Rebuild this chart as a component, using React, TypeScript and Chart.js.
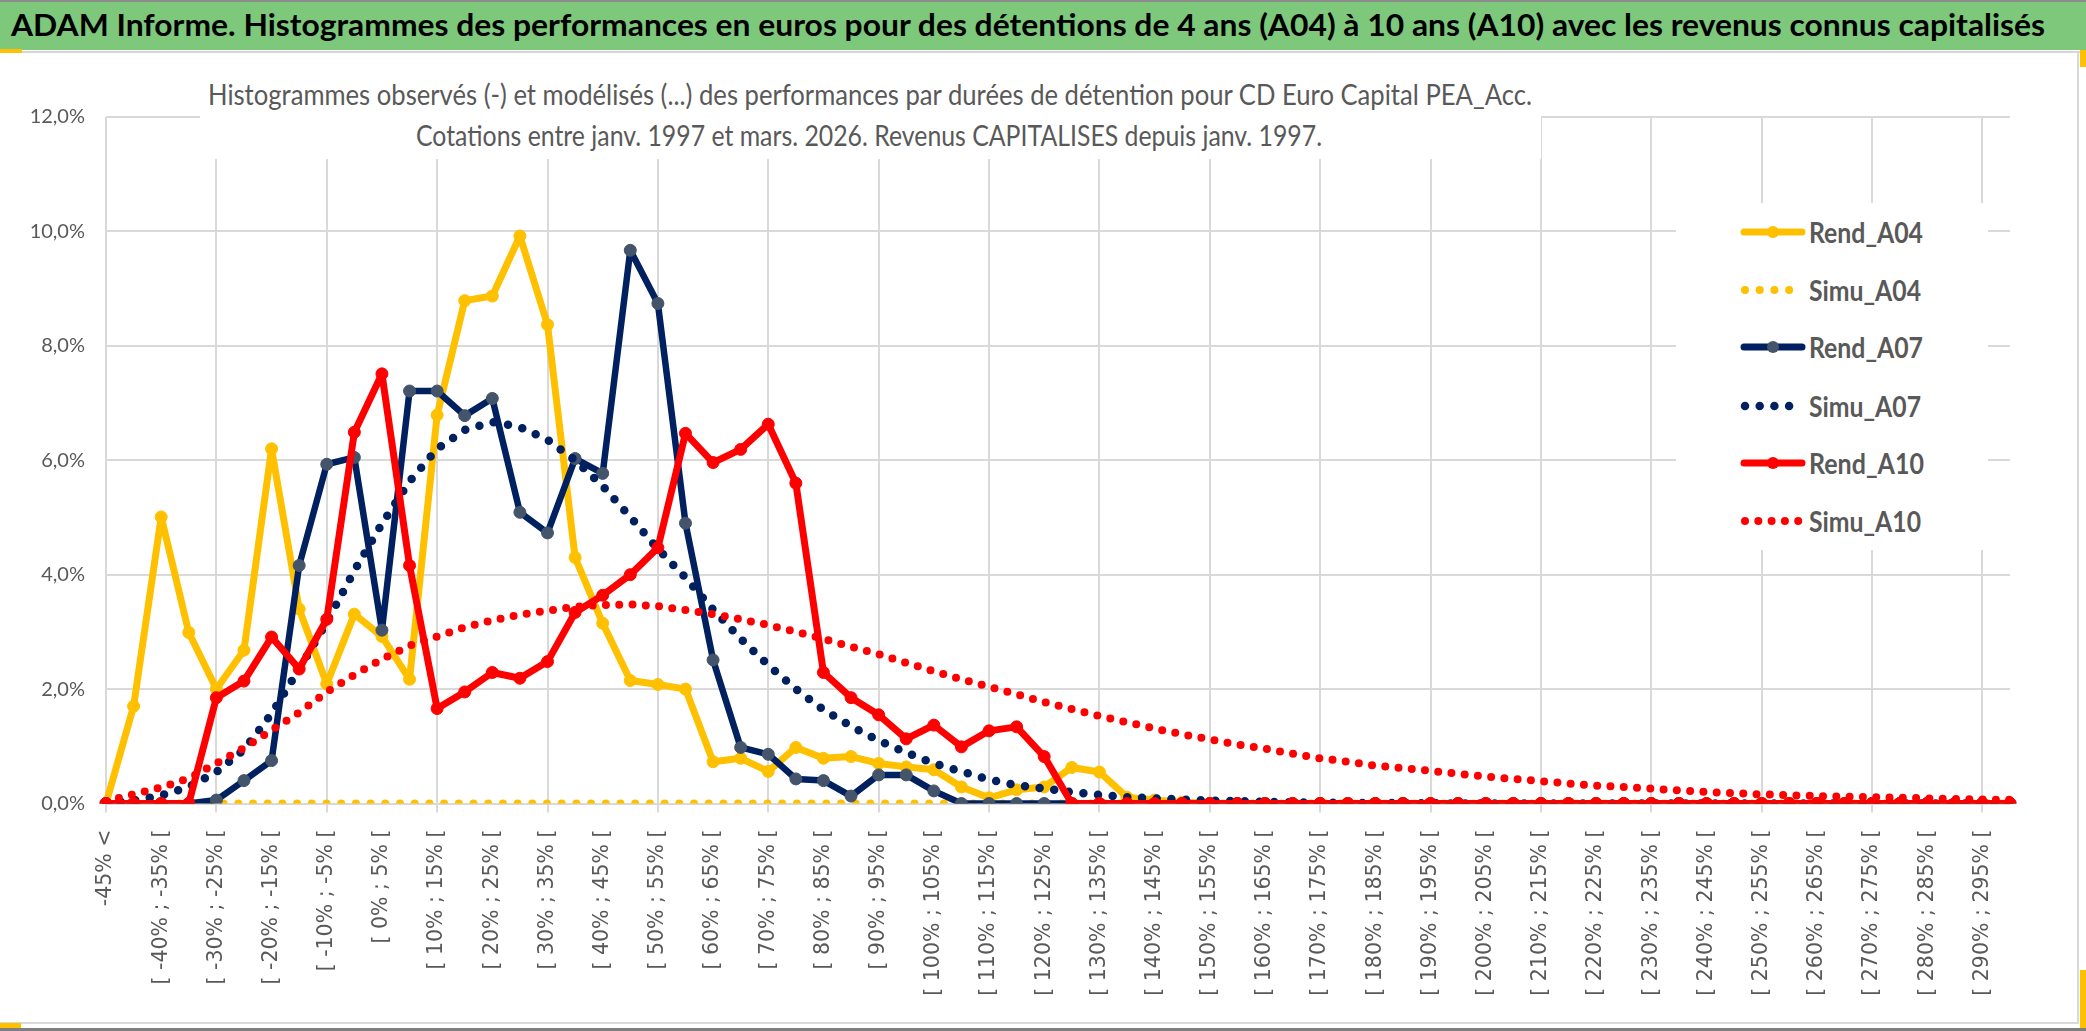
import React, { useEffect, useLayoutEffect, useRef } from "react";
import { Chart, registerables } from "chart.js";

Chart.register(...registerables);

// ---------------- DATA ----------------
const CATEGORIES: string[] = [
  "-45% <", "[ -45% ; -40% [", "[ -40% ; -35% [", "[ -35% ; -30% [", "[ -30% ; -25% [",
  "[ -25% ; -20% [", "[ -20% ; -15% [", "[ -15% ; -10% [", "[ -10% ; -5% [", "[ -5% ; 0% [",
  "[ 0% ; 5% [", "[ 5% ; 10% [", "[ 10% ; 15% [", "[ 15% ; 20% [", "[ 20% ; 25% [",
  "[ 25% ; 30% [", "[ 30% ; 35% [", "[ 35% ; 40% [", "[ 40% ; 45% [", "[ 45% ; 50% [",
  "[ 50% ; 55% [", "[ 55% ; 60% [", "[ 60% ; 65% [", "[ 65% ; 70% [", "[ 70% ; 75% [",
  "[ 75% ; 80% [", "[ 80% ; 85% [", "[ 85% ; 90% [", "[ 90% ; 95% [", "[ 95% ; 100% [",
  "[ 100% ; 105% [", "[ 105% ; 110% [", "[ 110% ; 115% [", "[ 115% ; 120% [", "[ 120% ; 125% [",
  "[ 125% ; 130% [", "[ 130% ; 135% [", "[ 135% ; 140% [", "[ 140% ; 145% [", "[ 145% ; 150% [",
  "[ 150% ; 155% [", "[ 155% ; 160% [", "[ 160% ; 165% [", "[ 165% ; 170% [", "[ 170% ; 175% [",
  "[ 175% ; 180% [", "[ 180% ; 185% [", "[ 185% ; 190% [", "[ 190% ; 195% [", "[ 195% ; 200% [",
  "[ 200% ; 205% [", "[ 205% ; 210% [", "[ 210% ; 215% [", "[ 215% ; 220% [", "[ 220% ; 225% [",
  "[ 225% ; 230% [", "[ 230% ; 235% [", "[ 235% ; 240% [", "[ 240% ; 245% [", "[ 245% ; 250% [",
  "[ 250% ; 255% [", "[ 255% ; 260% [", "[ 260% ; 265% [", "[ 265% ; 270% [", "[ 270% ; 275% [",
  "[ 275% ; 280% [", "[ 280% ; 285% [", "[ 285% ; 290% [", "[ 290% ; 295% [", "[ 295% ; 300% [",
];

// values in %
const REND_A04: number[] = [
  0, 1.7, 5.01, 2.99, 2.0, 2.68, 6.2, 3.4, 2.09, 3.31,
  2.92, 2.17, 6.79, 8.79, 8.87, 9.92, 8.37, 4.3, 3.15, 2.15,
  2.08, 2.0, 0.73, 0.79, 0.56, 0.98, 0.79, 0.82, 0.7, 0.64,
  0.59, 0.29, 0.1, 0.24, 0.29, 0.63, 0.55, 0.11, 0.06, 0.02,
  0, 0, 0, 0, 0, 0, 0, 0, 0, 0,
  0, 0, 0, 0, 0, 0, 0, 0, 0, 0,
  0, 0, 0, 0, 0, 0, 0, 0, 0, 0,
];

const SIMU_A04: number[] = [
  0, 0, 0, 0, 0, 0, 0, 0, 0, 0,
  0, 0, 0, 0, 0, 0, 0, 0, 0, 0,
  0, 0, 0, 0, 0, 0, 0, 0, 0, 0,
  0, 0, 0, 0, 0, 0, 0, 0, 0, 0,
  0, 0, 0, 0, 0, 0, 0, 0, 0, 0,
  0, 0, 0, 0, 0, 0, 0, 0, 0, 0,
  0, 0, 0, 0, 0, 0, 0, 0, 0, 0,
];

const REND_A07: number[] = [
  0, 0, 0, 0, 0.06, 0.4, 0.75, 4.16, 5.93, 6.05,
  3.03, 7.21, 7.21, 6.78, 7.08, 5.09, 4.73, 6.03, 5.77, 9.67,
  8.74, 4.9, 2.51, 0.98, 0.86, 0.43, 0.4, 0.13, 0.5, 0.5,
  0.22, 0, 0, 0, 0, 0, 0, 0, 0, 0,
  0, 0, 0, 0, 0, 0, 0, 0, 0, 0,
  0, 0, 0, 0, 0, 0, 0, 0, 0, 0,
  0, 0, 0, 0, 0, 0, 0, 0, 0, 0,
];

const SIMU_A07: number[] = [
  0.01, 0.05, 0.14, 0.29, 0.55, 0.94, 1.57, 2.35, 3.17, 4.07,
  4.89, 5.63, 6.2, 6.53, 6.67, 6.58, 6.36, 6.0, 5.55, 5.01,
  4.45, 3.95, 3.39, 2.88, 2.42, 2.0, 1.64, 1.35, 1.1, 0.89,
  0.7, 0.56, 0.42, 0.32, 0.26, 0.2, 0.15, 0.11, 0.09, 0.07,
  0.05, 0.04, 0.03, 0.02, 0.015, 0.01, 0.01, 0.005, 0.005, 0,
  0, 0, 0, 0, 0, 0, 0, 0, 0, 0,
  0, 0, 0, 0, 0, 0, 0, 0, 0, 0,
];

const REND_A10: number[] = [
  0, 0, 0, 0, 1.85, 2.14, 2.91, 2.35, 3.22, 6.49,
  7.51, 4.16, 1.66, 1.95, 2.29, 2.19, 2.48, 3.34, 3.64, 4.0,
  4.47, 6.47, 5.96, 6.19, 6.63, 5.6, 2.29, 1.85, 1.55, 1.13,
  1.37, 0.99, 1.27, 1.34, 0.82, 0, 0, 0, 0, 0,
  0, 0, 0, 0, 0, 0, 0, 0, 0, 0,
  0, 0, 0, 0, 0, 0, 0, 0, 0, 0,
  0, 0, 0, 0, 0, 0, 0, 0, 0, 0,
];

const SIMU_A10: number[] = [
  0.04, 0.16, 0.28, 0.44, 0.7, 0.97, 1.28, 1.59, 1.95, 2.25,
  2.52, 2.76, 2.92, 3.08, 3.2, 3.3, 3.37, 3.44, 3.47, 3.48,
  3.45, 3.38, 3.31, 3.22, 3.12, 3.0, 2.88, 2.74, 2.61, 2.46,
  2.31, 2.17, 2.04, 1.91, 1.77, 1.65, 1.53, 1.42, 1.31, 1.21,
  1.12, 1.03, 0.96, 0.87, 0.79, 0.73, 0.66, 0.62, 0.57, 0.52,
  0.47, 0.43, 0.39, 0.35, 0.31, 0.29, 0.26, 0.23, 0.2, 0.18,
  0.16, 0.145, 0.13, 0.12, 0.11, 0.1, 0.09, 0.08, 0.07, 0.065,
];

const Y_TICKS: number[] = [0, 2, 4, 6, 8, 10, 12];

const TITLE =
  "ADAM Informe. Histogrammes des performances en euros pour des détentions de 4 ans (A04) à 10 ans (A10) avec les revenus connus capitalisés";
const SUBTITLE_1 =
  "Histogrammes observés (-) et modélisés (...) des performances par durées de détention pour CD Euro Capital PEA_Acc.";
const SUBTITLE_2 = "Cotations entre janv. 1997 et mars. 2026. Revenus CAPITALISES depuis janv. 1997.";

// ---------------- STYLE ----------------
const YELLOW = "#FFC000";
const NAVY = "#002060";
const NAVY_MARK = "#44546A";
const RED = "#FF0000";
const GRID = "#d9d9d9";
const TEXT = "#595959";

type Series = {
  name: string;
  data: number[];
  color: string;
  mark: string;
  dotted: boolean;
  width: number;
  gap: number;
};

const SERIES: Series[] = [
  { name: "Rend_A04", data: REND_A04, color: YELLOW, mark: YELLOW, dotted: false, width: 7, gap: 0 },
  { name: "Simu_A04", data: SIMU_A04, color: YELLOW, mark: YELLOW, dotted: true, width: 8, gap: 14.7 },
  { name: "Rend_A07", data: REND_A07, color: NAVY, mark: NAVY_MARK, dotted: false, width: 6.5, gap: 0 },
  { name: "Simu_A07", data: SIMU_A07, color: NAVY, mark: NAVY, dotted: true, width: 8.5, gap: 14.7 },
  { name: "Rend_A10", data: REND_A10, color: RED, mark: RED, dotted: false, width: 7, gap: 0 },
  { name: "Simu_A10", data: SIMU_A10, color: RED, mark: RED, dotted: true, width: 8, gap: 13.3 },
];

// ---------------- helpers ----------------
function FitText(props: {
  text: string;
  x: number;
  y: number;
  w: number;
  size: number;
  weight: number | string;
  color: string;
  family: string;
}) {
  const ref = useRef<HTMLSpanElement>(null);
  useLayoutEffect(() => {
    const el = ref.current;
    if (!el) return;
    const fit = () => {
      el.style.transform = "none";
      const nat = el.getBoundingClientRect().width;
      if (nat > 0) el.style.transform = `scaleX(${props.w / nat})`;
    };
    fit();
    if ((document as any).fonts && (document as any).fonts.ready) {
      (document as any).fonts.ready.then(fit);
    }
  }, [props.text, props.w]);
  return (
    <span
      ref={ref}
      style={{
        position: "absolute",
        left: props.x,
        top: props.y,
        whiteSpace: "nowrap",
        fontSize: props.size,
        fontWeight: props.weight as any,
        color: props.color,
        fontFamily: props.family,
        lineHeight: `${props.size}px`,
        transformOrigin: "0 0",
        display: "inline-block",
      }}
    >
      {props.text}
    </span>
  );
}

const CANVAS_TOP = 53;
const CANVAS_W = 2078;
const CANVAS_H = 969;

export default function App() {
  const canvasRef = useRef<HTMLCanvasElement>(null);

  useEffect(() => {
    const canvas = canvasRef.current;
    if (!canvas) return;
    const datasets = SERIES.map((s, i) => ({
      label: s.name,
      data: s.data,
      borderColor: s.color,
      backgroundColor: s.mark,
      borderWidth: s.width,
      borderDash: s.dotted ? [0, s.gap] : [],
      borderCapStyle: "round" as const,
      borderJoinStyle: "round" as const,
      pointRadius: s.dotted ? 0 : 6,
      pointHoverRadius: s.dotted ? 0 : 6,
      pointBackgroundColor: s.mark,
      pointBorderColor: s.mark,
      pointBorderWidth: 1,
      tension: 0,
      fill: false,
      order: SERIES.length - 1 - i,
    }));

    const chart = new Chart(canvas, {
      type: "line",
      data: { labels: CATEGORIES, datasets },
      options: {
        responsive: false,
        animation: false,
        events: [],
        layout: { padding: { top: 117 - CANVAS_TOP, right: CANVAS_W - 2010, left: 0, bottom: 0 } },
        plugins: {
          legend: { display: false },
          tooltip: { enabled: false },
          title: { display: false },
        },
        scales: {
          x: {
            type: "category",
            offset: false,
            grid: {
              color: (c: any) => (c.index % 4 === 0 ? GRID : "rgba(0,0,0,0)"),
              lineWidth: 2,
              tickLength: 9,
              offset: false,
            },
            border: { display: false },
            ticks: {
              autoSkip: false,
              maxRotation: 90,
              minRotation: 90,
              padding: 17,
              color: TEXT,
              font: { family: "'DejaVu Sans'", size: 20.5 },
              callback: (_v: any, i: number) => (i % 2 === 0 ? CATEGORIES[i] : ""),
            },
            afterFit: (s: any) => {
              s.height = CANVAS_H - (803.5 - CANVAS_TOP);
            },
          },
          y: {
            min: Y_TICKS[0],
            max: Y_TICKS[Y_TICKS.length - 1],
            afterBuildTicks: (s: any) => {
              s.ticks = Y_TICKS.map((v) => ({ value: v }));
            },
            grid: { color: GRID, lineWidth: 2, drawTicks: false },
            border: { display: false },
            ticks: {
              padding: 21,
              color: TEXT,
              font: { family: "'Liberation Sans Narrow', Lato", size: 20 },
              callback: (v: any) => Number(v).toFixed(1).replace(".", ",") + "%",
            },
            afterFit: (s: any) => {
              s.width = 106;
            },
          },
        },
      },
    } as any);
    return () => chart.destroy();
  }, []);

  const legendRows = [232, 290, 347, 406, 463, 521];
  const legendW = [114, 112, 114, 112, 115, 112];
  const LBOX = { x: 1676, y: 203, w: 312, h: 347 };

  return (
    <div
      style={{
        position: "absolute",
        left: 0,
        top: 0,
        width: 2086,
        height: 1031,
        overflow: "hidden",
        background: "#ffffff",
        fontFamily: "Lato, sans-serif",
      }}
    >
      {/* title bar */}
      <div style={{ position: "absolute", left: 0, top: 0, width: 2086, height: 50, background: "#7dc87b", borderTop: "2px solid #8c8c8c", boxSizing: "border-box" }} />
      <div style={{ position: "absolute", left: 0, top: 51, width: 2086, height: 2, background: "#d6d6d6" }} />
      <FitText text={TITLE} x={11} y={9} w={2034} size={31} weight={700} color="#000000" family="Lato" />

      {/* chart */}
      <canvas
        ref={canvasRef}
        width={CANVAS_W}
        height={CANVAS_H}
        style={{ position: "absolute", left: 0, top: CANVAS_TOP, width: CANVAS_W, height: CANVAS_H }}
      />

      {/* subtitle box */}
      <div style={{ position: "absolute", left: 200, top: 62, width: 1341, height: 97, background: "#ffffff" }} />
      <FitText text={SUBTITLE_1} x={208} y={80} w={1324} size={28} weight={400} color={TEXT} family="Lato" />
      <FitText text={SUBTITLE_2} x={416} y={121} w={906} size={28} weight={400} color={TEXT} family="Lato" />

      {/* legend */}
      <div style={{ position: "absolute", left: LBOX.x, top: LBOX.y, width: LBOX.w, height: LBOX.h, background: "#ffffff" }} />
      <svg style={{ position: "absolute", left: 0, top: 0 }} width={2086} height={1031}>
        {SERIES.map((s, i) => {
          const cy = legendRows[i];
          if (!s.dotted) {
            return (
              <g key={s.name}>
                <line x1={1744} y1={cy} x2={1802} y2={cy} stroke={s.color} strokeWidth={7} strokeLinecap="round" />
                <circle cx={1773} cy={cy} r={6} fill={s.mark} />
              </g>
            );
          }
          const n = s.gap < 14 ? 5 : 4;
          const dots = [];
          for (let k = 0; k < n; k++) {
            dots.push(<circle key={k} cx={1745 + k * s.gap} cy={cy} r={s.width / 2} fill={s.color} />);
          }
          return <g key={s.name}>{dots}</g>;
        })}
      </svg>
      {SERIES.map((s, i) => (
        <FitText key={s.name} text={s.name} x={1809} y={legendRows[i] - 15} w={legendW[i]} size={29} weight={700} color={TEXT} family="Lato" />
      ))}

      {/* frame */}
      <div style={{ position: "absolute", left: 2077, top: 53, width: 2, height: 969, background: "#d9d9d9" }} />
      <div style={{ position: "absolute", left: 0, top: 1022, width: 2079, height: 2, background: "#d9d9d9" }} />
      <div style={{ position: "absolute", left: 0, top: 1028, width: 2086, height: 3, background: "#7f7f7f" }} />
      {/* selection handles */}
      <div style={{ position: "absolute", left: 0, top: 49, width: 22, height: 4, background: YELLOW }} />
      <div style={{ position: "absolute", left: 2080, top: 50, width: 6, height: 17, background: YELLOW }} />
      <div style={{ position: "absolute", left: 2080, top: 970, width: 6, height: 58, background: YELLOW }} />
      <div style={{ position: "absolute", left: 0, top: 1023, width: 21, height: 5, background: YELLOW }} />
    </div>
  );
}
